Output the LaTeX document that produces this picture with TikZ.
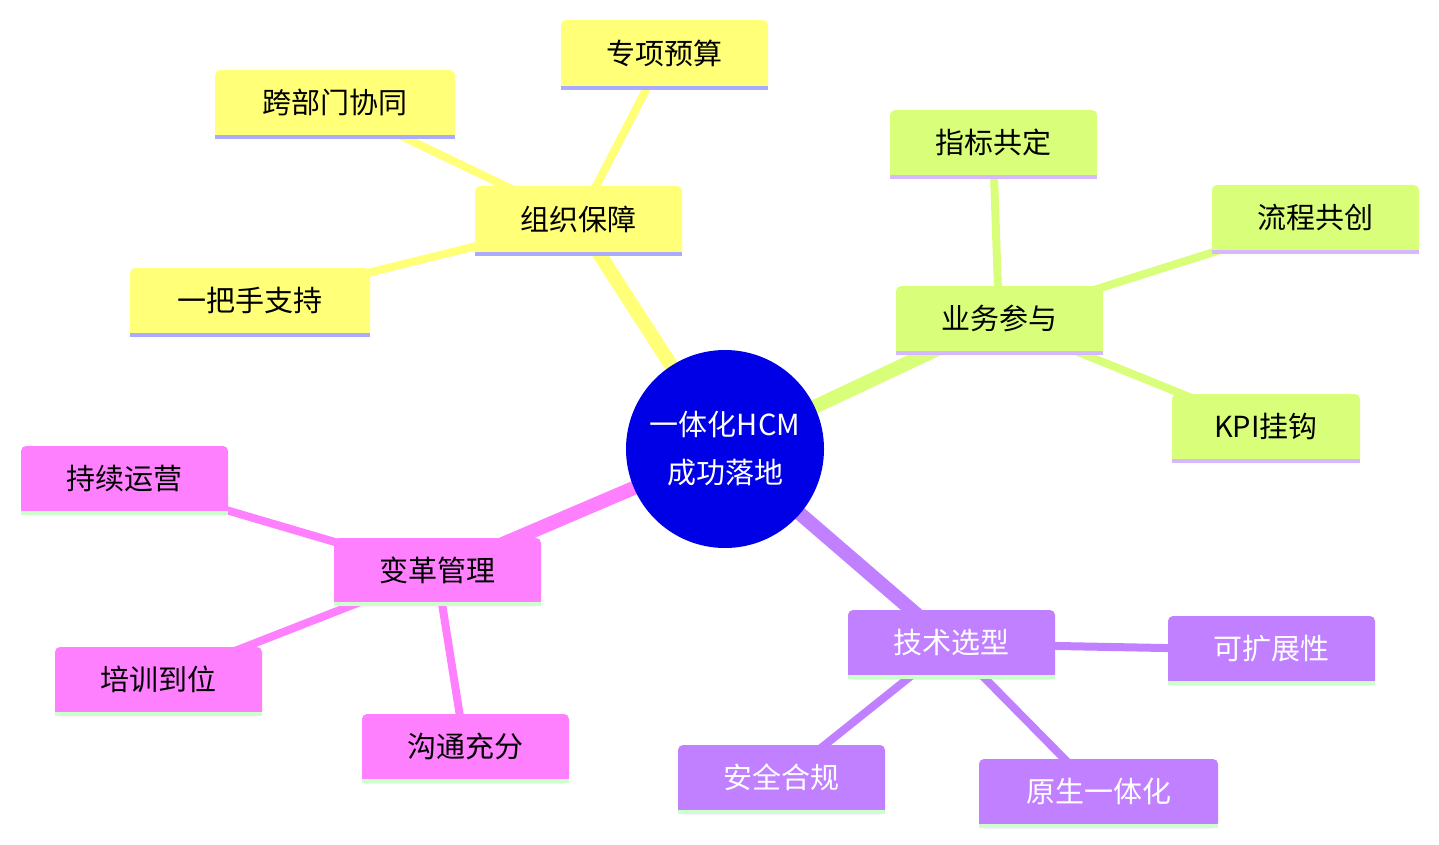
\documentclass[tikz,border=0pt]{standalone}
\usepackage{fontspec}
\setmainfont{Noto Sans CJK SC}
\begin{document}
\begin{tikzpicture}[x=1pt,y=-1pt,
  box/.style={rounded corners=5pt,inner sep=0pt,font=\fontsize{29}{34}\selectfont},
  mainl/.style={line width=14pt},
  subl/.style={line width=8pt}]
\useasboundingbox (0,0) rectangle (1439,845);
\definecolor{yel}{RGB}{255,255,120}
\definecolor{grn}{RGB}{217,255,122}
\definecolor{pur}{RGB}{192,128,255}
\definecolor{pnk}{RGB}{255,128,255}
\definecolor{barA}{RGB}{170,170,255}
\definecolor{barB}{RGB}{214,184,255}
\definecolor{barC}{RGB}{204,255,204}
\definecolor{ctr}{RGB}{0,0,230}
\newcommand{\mmbox}[9]{%
  \fill[#6,rounded corners=5pt] (#2,#3) rectangle (#4,#5);
  \fill[#7] (#2,#5-4) rectangle (#4,#5);
  \node[box,text=#8] (#1) at ({(#2+#4)/2},{(#3+#5)/2-2}) {#9};}
\coordinate (c) at (725,449);
\coordinate (zz) at (578,221);
\coordinate (yw) at (999,320);
\coordinate (js) at (951,644);
\coordinate (bg) at (437,572);
\draw[yel,mainl] (c) -- (zz);
\draw[grn,mainl] (c) -- (yw);
\draw[pur,mainl] (c) -- (js);
\draw[pnk,mainl] (c) -- (bg);
\draw[yel,subl] (zz) -- (664,55);
\draw[yel,subl] (zz) -- (335,104);
\draw[yel,subl] (zz) -- (250,302);
\draw[grn,subl] (yw) -- (993,145);
\draw[grn,subl] (yw) -- (1315,220);
\draw[grn,subl] (yw) -- (1266,428);
\draw[pur,subl] (js) -- (1271,650);
\draw[pur,subl] (js) -- (781,780);
\draw[pur,subl] (js) -- (1098,793);
\draw[pnk,subl] (bg) -- (124,480);
\draw[pnk,subl] (bg) -- (158,681);
\draw[pnk,subl] (bg) -- (465,748);
\mmbox{n1}{475}{186}{682}{256}{yel}{barA}{black}{组织保障}
\mmbox{n2}{561}{20}{768}{90}{yel}{barA}{black}{专项预算}
\mmbox{n3}{215}{70}{455}{139}{yel}{barA}{black}{跨部门协同}
\mmbox{n4}{130}{268}{370}{337}{yel}{barA}{black}{一把手支持}
\mmbox{n5}{896}{286}{1103}{355}{grn}{barB}{black}{业务参与}
\mmbox{n6}{890}{110}{1097}{179}{grn}{barB}{black}{指标共定}
\mmbox{n7}{1212}{185}{1419}{254}{grn}{barB}{black}{流程共创}
\mmbox{n8}{1172}{394}{1360}{463}{grn}{barB}{black}{KPI挂钩}
\mmbox{n9}{848}{610}{1055}{679}{pur}{barC}{white}{技术选型}
\mmbox{n10}{1168}{616}{1375}{685}{pur}{barC}{white}{可扩展性}
\mmbox{n11}{678}{745}{885}{814}{pur}{barC}{white}{安全合规}
\mmbox{n12}{979}{759}{1218}{828}{pur}{barC}{white}{原生一体化}
\mmbox{n13}{334}{538}{541}{606}{pnk}{barC}{black}{变革管理}
\mmbox{n14}{21}{446}{228}{515}{pnk}{barC}{black}{持续运营}
\mmbox{n15}{55}{647}{262}{716}{pnk}{barC}{black}{培训到位}
\mmbox{n16}{362}{714}{569}{783}{pnk}{barC}{black}{沟通充分}
\node[circle,fill=ctr,minimum size=198pt,inner sep=0pt,text=white,align=center,
  font=\fontsize{29}{48}\selectfont] (root) at (c) {一体化HCM\\成功落地};
\end{tikzpicture}
\end{document}
